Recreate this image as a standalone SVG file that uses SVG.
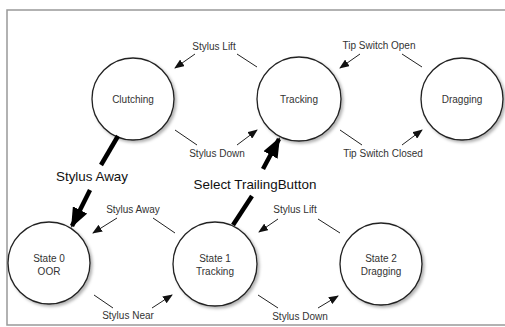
<svg xmlns="http://www.w3.org/2000/svg" width="505" height="327" viewBox="0 0 505 327">
<defs>
<style>
.st{fill:#fff;stroke:#222;stroke-width:1.3;filter:url(#sh)}
.t{font-family:"Liberation Sans",Arial,sans-serif;font-size:10px;fill:#333;text-anchor:middle}
.tb{font-family:"Liberation Sans",Arial,sans-serif;font-size:13.4px;fill:#111;text-anchor:middle}
.c{stroke:#222;stroke-width:1;fill:none}
.a{stroke:#222;stroke-width:1;fill:none;marker-end:url(#ah)}
.k{stroke:#000;stroke-width:4.5;fill:none}
.ka{stroke:#000;stroke-width:4.5;fill:none;marker-end:url(#bh)}
</style>
<filter id="sh" x="-20%" y="-20%" width="150%" height="150%">
<feDropShadow dx="2" dy="2" stdDeviation="1.8" flood-color="#000" flood-opacity="0.3"/>
</filter>
<marker id="ah" markerUnits="userSpaceOnUse" viewBox="0 0 10 8" markerWidth="10" markerHeight="8" refX="9" refY="4" orient="auto">
<path d="M0,0 L10,4 L0,8 z" fill="#111"/>
</marker>
<marker id="bh" markerUnits="userSpaceOnUse" viewBox="0 0 20 16" markerWidth="20" markerHeight="16" refX="18" refY="8" orient="auto">
<path d="M0,0 L20,8 L0,16 z" fill="#000"/>
</marker>
</defs>
<rect width="505" height="327" fill="#fff"/>
<path d="M505,10 H7 V325 H505" fill="none" stroke="#999" stroke-width="1.5"/>

<g id="clutching"><circle class="st" cx="133" cy="99" r="41"/><text class="t" x="133" y="103">Clutching</text></g>
<g id="tracking"><circle class="st" cx="299" cy="99" r="42"/><text class="t" x="299" y="103">Tracking</text></g>
<g id="dragging"><circle class="st" cx="462" cy="99" r="41"/><text class="t" x="462" y="103">Dragging</text></g>
<g id="state0"><circle class="st" cx="49" cy="263" r="41"/><text class="t" x="49" y="262">State 0</text><text class="t" x="49" y="275">OOR</text></g>
<g id="state1"><circle class="st" cx="215" cy="264" r="42"/><text class="t" x="215" y="262">State 1</text><text class="t" x="215" y="275">Tracking</text></g>
<g id="state2"><circle class="st" cx="381" cy="264" r="41"/><text class="t" x="381" y="262">State 2</text><text class="t" x="381" y="275">Dragging</text></g>

<g id="connectors">
<line class="c" x1="257" y1="67" x2="237" y2="54"/>
<line class="a" x1="195" y1="54" x2="175" y2="68"/>
<text class="t" x="214" y="50">Stylus Lift</text>

<line class="c" x1="175" y1="130" x2="197" y2="145"/>
<line class="a" x1="237" y1="145" x2="257" y2="130"/>
<text class="t" x="217" y="157">Stylus Down</text>

<line class="c" x1="422" y1="67" x2="402" y2="54"/>
<line class="a" x1="360" y1="54" x2="340" y2="68"/>
<text class="t" x="379" y="49">Tip Switch Open</text>

<line class="c" x1="340" y1="130" x2="362" y2="145"/>
<line class="a" x1="402" y1="145" x2="422" y2="130"/>
<text class="t" x="383" y="157">Tip Switch Closed</text>

<line class="c" x1="175" y1="233" x2="153" y2="218"/>
<line class="a" x1="117" y1="218" x2="93" y2="233"/>
<text class="t" x="133" y="213">Stylus Away</text>

<line class="c" x1="94" y1="295" x2="113" y2="308"/>
<line class="a" x1="152" y1="308" x2="172" y2="295"/>
<text class="t" x="128" y="319">Stylus Near</text>

<line class="c" x1="340" y1="233" x2="318" y2="219"/>
<line class="a" x1="278" y1="219" x2="259" y2="232"/>
<text class="t" x="295" y="213">Stylus Lift</text>

<line class="c" x1="258" y1="295" x2="278" y2="308"/>
<line class="a" x1="318" y1="308" x2="338" y2="296"/>
<text class="t" x="300" y="320">Stylus Down</text>

<line class="k" x1="118" y1="136" x2="101" y2="165"/>
<line class="ka" x1="90" y1="190" x2="72" y2="226"/>
<text class="tb" x="92" y="181">Stylus Away</text>

<line class="k" x1="233" y1="225" x2="252" y2="196"/>
<line class="ka" x1="263" y1="169" x2="279" y2="139"/>
<text class="tb" x="255" y="189">Select TrailingButton</text>
</g>
</svg>
